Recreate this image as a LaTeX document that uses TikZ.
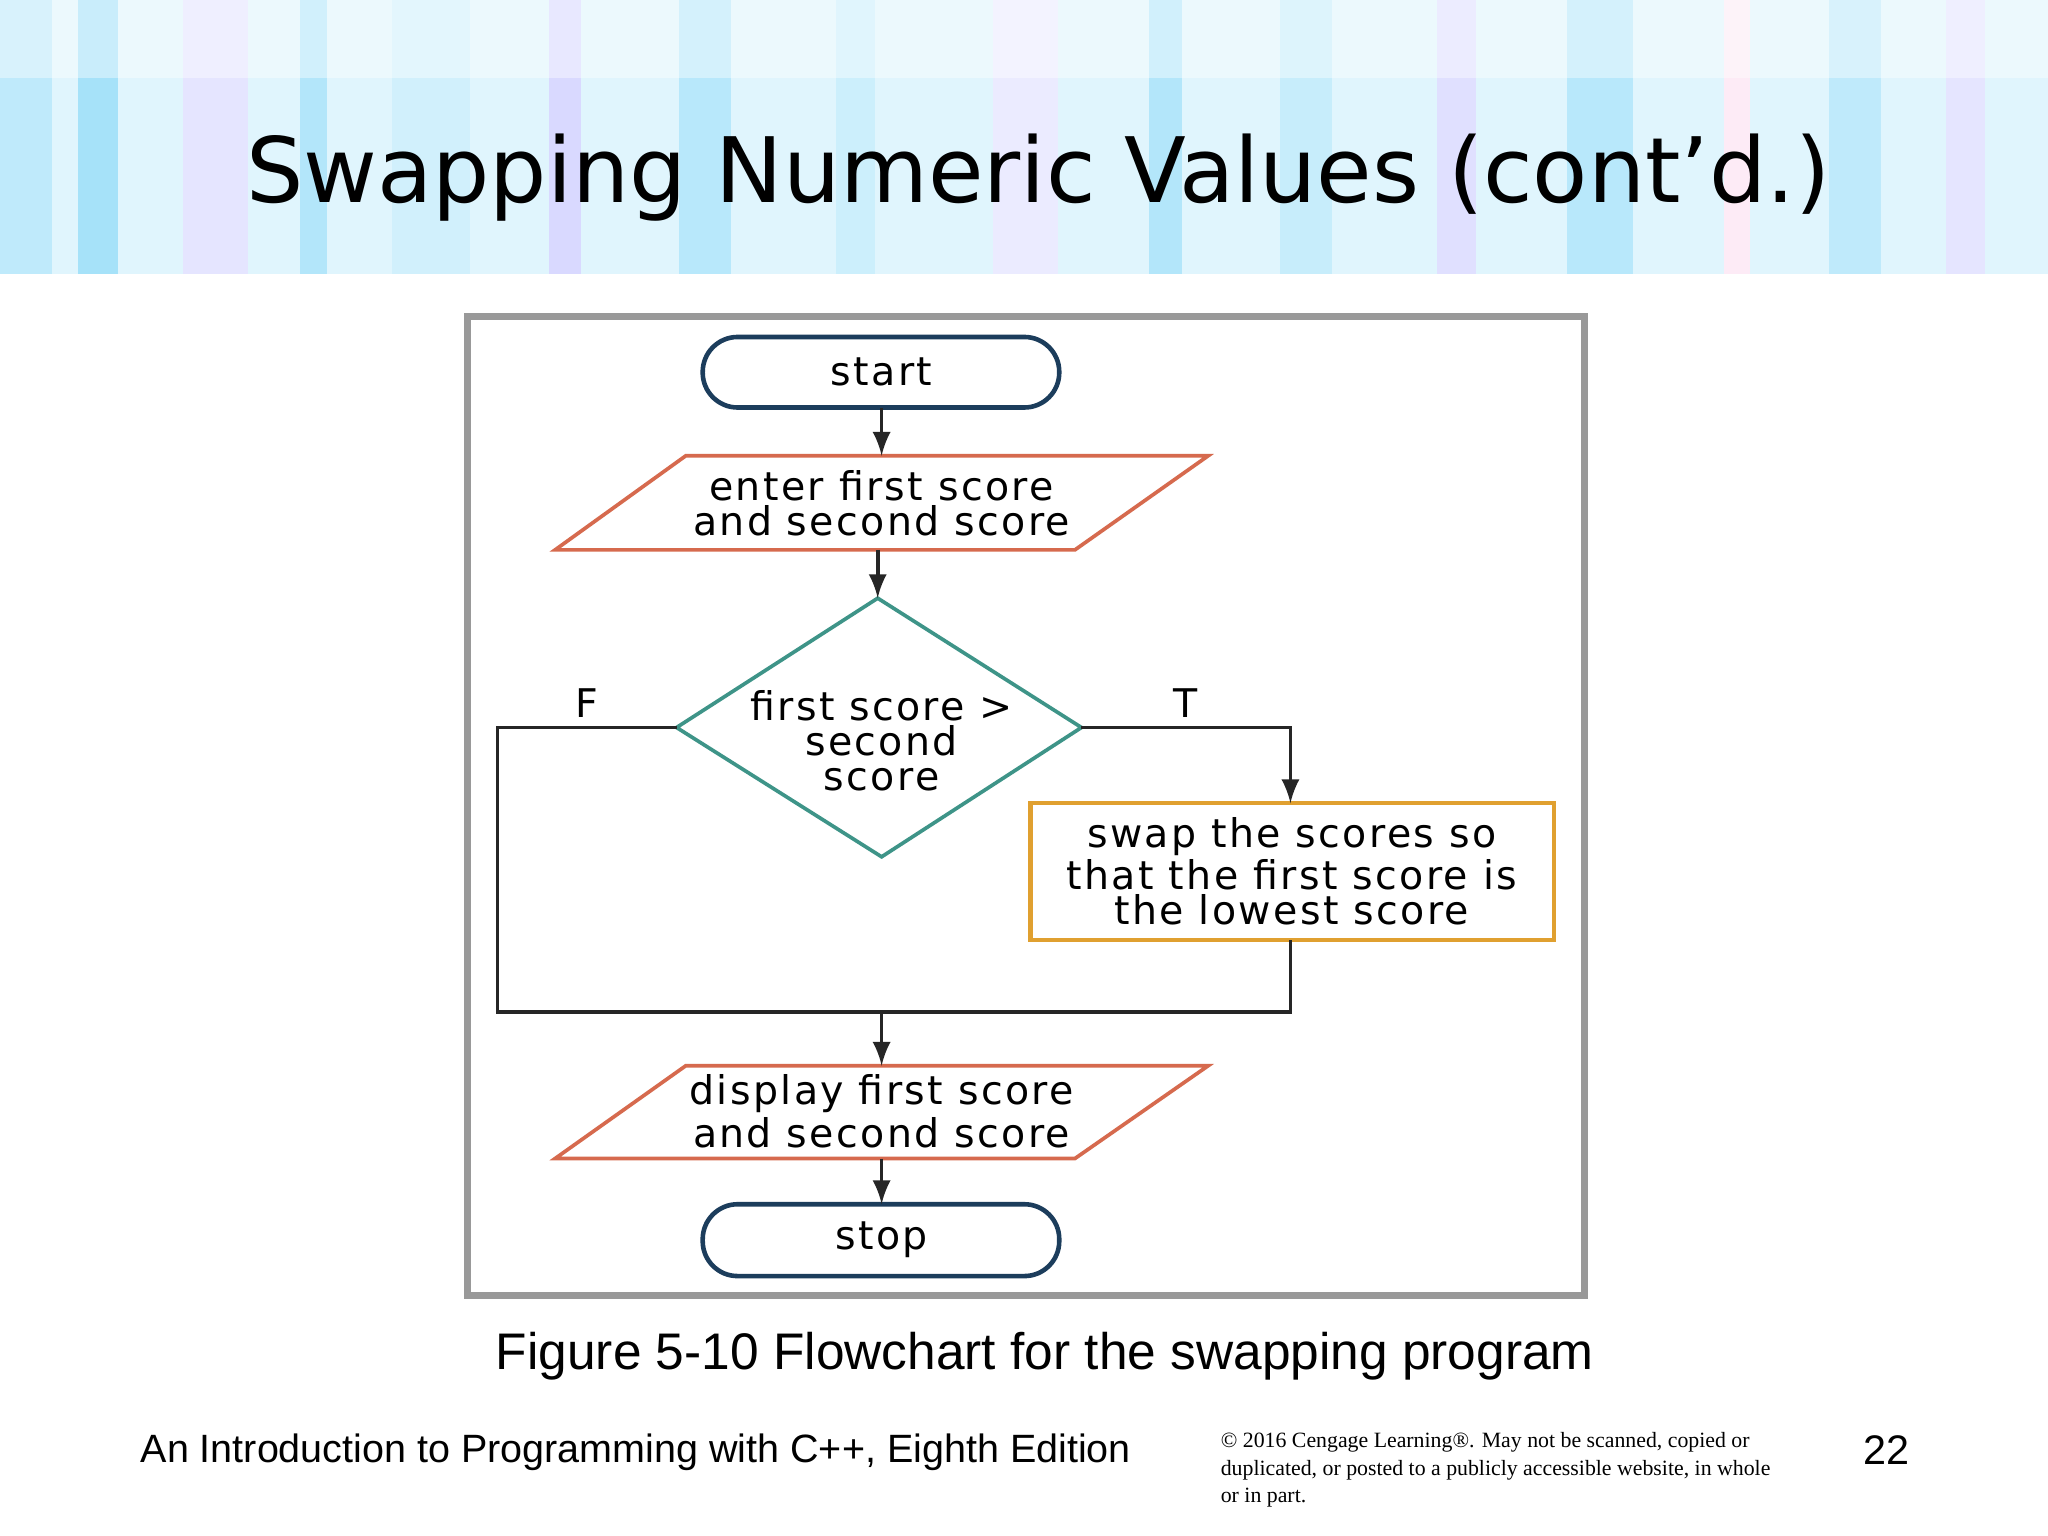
\documentclass[tikz,border=0pt]{standalone}
\usepackage{fontspec}
\usepackage{graphicx}
\setmainfont{Liberation Sans}
\newfontfamily\flowfont[LetterSpace=6]{DejaVu Sans}
\newfontfamily\titlefont{DejaVu Sans}
\newfontfamily\serifft{Liberation Serif}
\definecolor{termc}{HTML}{1C3D5C}
\definecolor{ioc}{HTML}{D66A4E}
\definecolor{decc}{HTML}{3E9488}
\definecolor{procc}{HTML}{E0A030}
\begin{document}
\begin{tikzpicture}[x=0.01cm,y=-0.01cm,
  term/.style={draw=termc,line width=1pt,rounded corners=7.6pt},
  io/.style={draw=ioc,line width=0.8pt},
  dec/.style={draw=decc,line width=0.8pt},
  proc/.style={draw=procc,line width=0.9pt},
  conn/.style={draw=black!85,line width=0.8pt},
  arr/.style={conn,-latex},
  ft/.style={font=\flowfont\fontsize{8.6}{7.6}\selectfont,align=center}]
\useasboundingbox (0,0) rectangle (1568,1176);
\fill[white] (0,0) rectangle (1568,1176);
% banner
\fill[cyan!12] (0,0) rectangle (1568,210);
\foreach \x/\w/\c in {0/40/cyan!25,60/30/cyan!35,140/50/blue!10,230/20/cyan!30,300/60/cyan!18,420/25/blue!15,520/40/cyan!28,640/30/cyan!20,760/50/blue!8,880/25/cyan!30,980/40/cyan!22,1100/30/blue!12,1200/50/cyan!28,1320/20/magenta!8,1400/40/cyan!25,1490/30/blue!10}
  \fill[\c] (\x,0) rectangle (\x+\w,210);
\fill[white,opacity=0.4] (0,0) rectangle (1568,60);
\node[anchor=base] (title) at (795,155) {\resizebox{345pt}{!}{\titlefont Swapping Numeric Values (cont’d.)}};
% frame
\draw[gray!80,line width=1.5pt] (358,242) rectangle (1213,992);
% nodes
\draw[term] (538,258) rectangle (811,312);
\node[ft] (start) at (675,285) {start};
\coordinate (startb) at (675,312);
\draw[io] (425,421) -- (525,349) -- (925,349) -- (823,421) -- cycle;
\node[ft] (inp) at (675,385) {enter first score\\and second score};
\coordinate (inpt) at (675,349); \coordinate (inpb) at (672,421);
\draw[dec] (672,458) -- (828,557) -- (675,656) -- (518,557) -- cycle;
\node[ft] (dec) at (675,567) {first score >\\second\\score};
\coordinate (dect) at (672,458); \coordinate (decl) at (518,557); \coordinate (decr) at (828,557);
\draw[proc] (789,615) rectangle (1190,720);
\node[ft] (swap) at (989,667) {swap the scores so\\that the first score is\\the lowest score};
\coordinate (swapt) at (988,615); \coordinate (swapb) at (988,720);
\draw[io] (425,887) -- (525,816) -- (925,816) -- (823,887) -- cycle;
\node[ft] (out) at (675,851) {display first score\\and second score};
\coordinate (outt) at (675,816); \coordinate (outb) at (675,887);
\draw[term] (538,922) rectangle (811,977);
\node[ft] (stop) at (675,949) {stop};
\coordinate (stopt) at (675,922);
\coordinate (join) at (675,775);
% connectors
\draw[arr] (startb) -- (inpt);
\draw[arr] (inpb) -- (dect);
\draw[conn] (decl) -- (381,557) -- (381,775) -- (988,775) -- (swapb);
\draw[arr] (decr) -- (988,557) -- (swapt);
\draw[arr] (join) -- (outt);
\draw[arr] (outb) -- (stopt);
\node[ft] (F) at (449,538) {F};
\node[ft] (T) at (908,538) {T};
% caption & footer
\node (cap) at (800,1038) {\fontsize{11.2}{12}\selectfont Figure 5-10 Flowchart for the swapping program};
\node[anchor=west,inner sep=0pt] (foot) at (107,1112) {\fontsize{8.6}{10}\selectfont An Introduction to Programming with C++, Eighth Edition};
\node[anchor=north west,align=left,inner sep=0pt,font=\serifft\fontsize{4.75}{6}\selectfont] (copy) at (934,1096) {© 2016 Cengage Learning®. May not be scanned, copied or\\duplicated, or posted to a publicly accessible website, in whole\\or in part.};
\node (num) at (1444,1110) {\fontsize{9}{10}\selectfont 22};
\end{tikzpicture}
\end{document}
